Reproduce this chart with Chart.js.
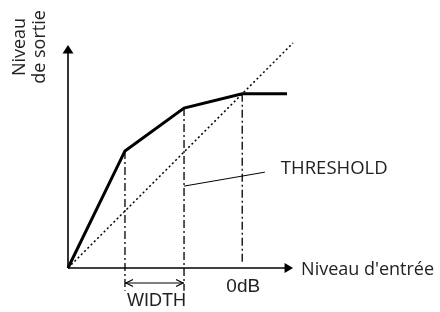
<!DOCTYPE html>
<html><head><meta charset="utf-8">
<script src="https://cdn.jsdelivr.net/npm/chart.js@4/dist/chart.umd.min.js"></script>
<style>html,body{margin:0;padding:0;background:#fff}canvas{display:block}</style>
</head><body>
<canvas id="c" width="440" height="312"></canvas>
<script>
// Transfer curve (input level -> output level), arbitrary units, 0dB = 100
const inputLevels  = [0, 32.7, 66.6, 100, 125.7];
const outputLevels = [0, 67.2, 91.8, 100, 100];
// unity (1:1) reference line
const unityX = [0, 129.2];
const unityY = [0, 129.2];
// knee markers (vertical dash-dot lines)
const kneeX      = [32.7, 66.6, 100];
const kneeTop    = [67.2, 91.8, 100];
const kneeBottom = [-13, -13, 2.5];
// axis extents
const xAxisEnd = 129.2;
const yAxisEnd = 128;
// THRESHOLD leader line
const leaderX = [66.6, 113];
const leaderY = [47, 55];
// WIDTH dimension arrow level
const widthArrowY = -8.6;
// labels
const yTitleLines = ['Niveau', 'de sortie'];
const xTitle = "Niveau d'entrée";
const thresholdLabel = 'THRESHOLD';
const widthLabel = 'WIDTH';
const zeroLabel = '0dB';

const pts = (xs, ys) => xs.map((x, i) => ({x, y: ys[i]}));
const line = (data, extra) => Object.assign({
  data, showLine: true, pointRadius: 0, borderColor: '#000', borderWidth: 1.5,
  fill: false, tension: 0, clip: false
}, extra);

const datasets = [
  line(pts([0, xAxisEnd - 4.6], [0, 0]), {borderWidth: 1.6}),
  line(pts([0, 0], [0, yAxisEnd - 4.6]), {borderWidth: 1.6}),
  line(pts(unityX, unityY), {borderWidth: 1.5, borderDash: [2, 2.6]}),
];
kneeX.forEach((x, i) => datasets.push(line(pts([x, x], [kneeTop[i], kneeBottom[i]]), {borderWidth: 1.3, borderDash: [8, 3, 2, 3]})));
datasets.push(line(pts(leaderX, leaderY), {borderWidth: 1}));
datasets.push(line(pts([kneeX[0], kneeX[1]], [widthArrowY, widthArrowY]), {borderWidth: 1.2}));
datasets.push(line(pts(inputLevels, outputLevels), {borderWidth: 3, borderJoinStyle: 'miter'}));

const deco = {
  id: 'deco',
  afterDatasetsDraw(chart) {
    const ctx = chart.ctx, xs = chart.scales.x, ys = chart.scales.y;
    const X = v => xs.getPixelForValue(v), Y = v => ys.getPixelForValue(v);
    ctx.save();
    ctx.fillStyle = '#000';
    // y-axis arrowhead
    const ox = X(0), oy = Y(0);
    const ty = Y(yAxisEnd);
    ctx.beginPath(); ctx.moveTo(ox, ty); ctx.lineTo(ox - 5.5, ty + 8.5); ctx.lineTo(ox + 5.5, ty + 8.5); ctx.closePath(); ctx.fill();
    // x-axis arrowhead
    const tx = X(xAxisEnd);
    ctx.beginPath(); ctx.moveTo(tx, oy); ctx.lineTo(tx - 8.5, oy - 5); ctx.lineTo(tx - 8.5, oy + 5); ctx.closePath(); ctx.fill();
    // WIDTH open arrowheads
    const wy = Y(widthArrowY), wx1 = X(kneeX[0]) + 1, wx2 = X(kneeX[1]) - 1;
    ctx.strokeStyle = '#000'; ctx.lineWidth = 1.2;
    ctx.beginPath();
    ctx.moveTo(wx1 + 7, wy - 3.5); ctx.lineTo(wx1, wy); ctx.lineTo(wx1 + 7, wy + 3.5);
    ctx.moveTo(wx2 - 7, wy - 3.5); ctx.lineTo(wx2, wy); ctx.lineTo(wx2 - 7, wy + 3.5);
    ctx.stroke();
    // texts
    ctx.fillStyle = '#222';
    ctx.font = '18px "Open Sans"';
    ctx.textAlign = 'left'; ctx.textBaseline = 'middle';
    ctx.fillText(xTitle, tx + 8, oy + 2);
    ctx.font = '18.5px "Open Sans"';
    ctx.fillText(thresholdLabel, X(leaderX[1]) + 16, Y(leaderY[1]) - 3);
    ctx.font = '19px "Liberation Sans"';
    ctx.textAlign = 'center'; ctx.textBaseline = 'alphabetic';
    ctx.fillText(zeroLabel, X(kneeX[2]) + 1, oy + 24);
    ctx.font = '18px "Liberation Sans"';
    ctx.fillText(widthLabel, (X(kneeX[0]) + X(kneeX[1])) / 2 + 2, oy + 38);
    // rotated y title
    ctx.font = '18px "Open Sans"';
    ctx.translate(0, 47);
    ctx.rotate(-Math.PI / 2);
    ctx.fillText(yTitleLines[0], 0, 25);
    ctx.fillText(yTitleLines[1], 0, 45);
    ctx.restore();
  }
};

new Chart(document.getElementById('c'), {
  type: 'scatter',
  data: {datasets},
  options: {
    responsive: false, animation: false, events: [],
    layout: {padding: {left: 68, right: 128.1, top: 24.1, bottom: 0.45}},
    plugins: {legend: {display: false}, tooltip: {enabled: false}},
    scales: {
      x: {type: 'linear', min: 0, max: 140, display: false},
      y: {type: 'linear', min: -25, max: 140, display: false}
    }
  },
  plugins: [deco]
});
</script>
</body></html>
